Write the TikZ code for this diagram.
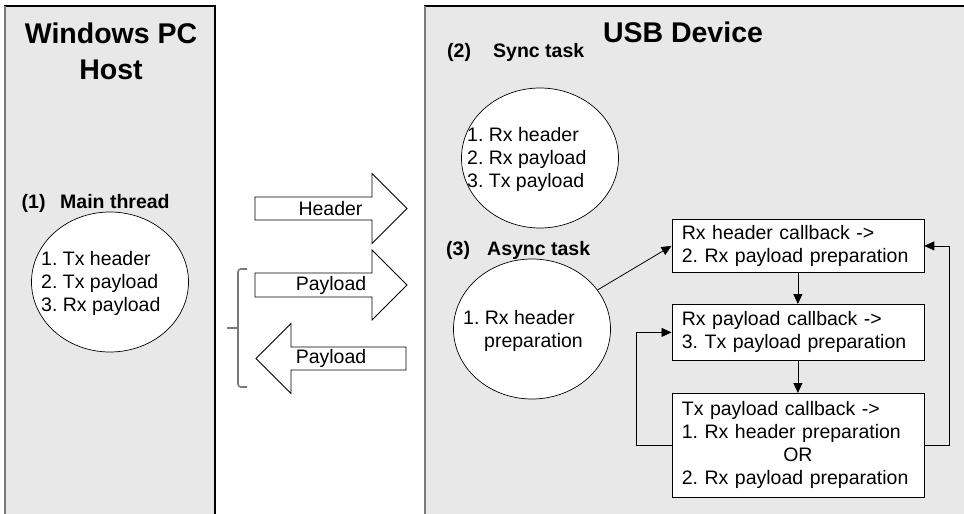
\documentclass[tikz,border=0pt]{standalone}
\usepackage{fontspec}
\setmainfont{Liberation Sans}
\usetikzlibrary{arrows.meta,shapes.geometric}
\definecolor{panelfill}{HTML}{E8E8E8}
\definecolor{edgegray}{HTML}{7A7A7A}
\frenchspacing
\begin{document}
\begin{tikzpicture}[x=1pt,y=-1pt,
  body/.style={font=\fontsize{19.5}{23}\selectfont\frenchspacing},
  lbl/.style={font=\fontsize{19.5}{23}\selectfont\bfseries, inner sep=0, anchor=base west},
  ttl/.style={font=\fontsize{28.5}{36.5}\selectfont\bfseries, inner sep=0, align=center},
  ell/.style={draw, fill=white, ellipse, line width=0.7pt, inner sep=0, minimum width=157pt, minimum height=140pt},
  etext/.style={body, align=left, anchor=west, inner sep=0},
  cbox/.style={draw, fill=white, line width=0.8pt, body, align=left, text width=232pt, inner xsep=10pt, inner ysep=0pt, anchor=north west},
  blk/.style={draw, fill=white, line width=0.8pt, line join=miter},
  blktext/.style={body, inner sep=0},
  flow/.style={line width=0.8pt, -{Triangle[length=10pt,width=9pt]}},
  bracestyle/.style={edgegray, line width=1.6pt},
  panel/.style={fill=panelfill},
]
\useasboundingbox (0,0) rectangle (964,514);
\clip (0,0) rectangle (964,514);

% panels
\fill[panel] (4,6) rectangle (215,530);
\draw[black, line width=1.2pt] (4,6) -- (215,6) -- (215,530);
\draw[edgegray, line width=2pt] (5,6) -- (5,530);
\fill[panel] (424,6) rectangle (980,530);
\draw[black, line width=1.2pt] (424,6) -- (980,6);
\draw[edgegray, line width=2pt] (425,6) -- (425,530);

% titles
\node[ttl] (t1) at (111,51.5) {Windows PC\\Host};
\node[ttl, anchor=base] (t2) at (683,42.5) {USB Device};

% labels
\node[lbl] (n1) at (21.5,208) {(1)};
\node[lbl] (m1) at (60,208) {Main thread};
\node[lbl] (n2) at (447,57) {(2)};
\node[lbl] (m2) at (493,57) {Sync task};
\node[lbl] (n3) at (446,255) {(3)};
\node[lbl] (m3) at (487,255) {Async task};

% ellipses
\node[ell] (le) at (110,282) {};
\node[etext] (lt) at (41,283.5) {1. Tx header\\2. Tx payload\\3. Rx payload};
\node[ell] (se) at (540,158) {};
\node[etext] (st) at (467,159.5) {1. Rx header\\2. Rx payload\\3. Tx payload};
\node[ell] (ae) at (532,329) {};
\node[etext] (at) at (463,331) {1. Rx header\\\hspace*{21pt}preparation};

% block arrows
\draw[blk] (255,197) -- (372,197) -- (372,173.5) -- (407,208.5) -- (372,243.5) -- (372,220) -- (255,220) -- cycle;
\node[blktext] (h1) at (330.5,208.5) {Header};
\draw[blk] (255,273) -- (372,273) -- (372,250) -- (407,285) -- (372,320) -- (372,297) -- (255,297) -- cycle;
\node[blktext] (p1) at (331,285) {Payload};
\draw[blk] (406,347) -- (291,347) -- (291,323.5) -- (256,358.5) -- (291,393.5) -- (291,370) -- (406,370) -- cycle;
\node[blktext] (p2) at (331,358.5) {Payload};

% brace
\draw[bracestyle, rounded corners=3pt] (247,269) -- (238,269) -- (238,387) -- (247,387);
\draw[bracestyle] (227,328) -- (238,328);

% callback boxes
\node[cbox, minimum height=53pt] (b1) at (671.5,219) {Rx header callback ->\\2. Rx payload preparation};
\node[cbox, minimum height=56pt] (b2) at (671.5,304) {Rx payload callback ->\\3. Tx payload preparation};
\node[cbox, minimum height=104pt] (b3) at (671.5,393) {Tx payload callback ->\\1. Rx header preparation\\\makebox[232pt]{OR}\\2. Rx payload preparation};

% connectors
\coordinate (rc) at (949,0);
\coordinate (lc) at (636,0);
\draw[flow] (ae) -- (b1.west);
\draw[flow] (b1.south) -- (b2.north);
\draw[flow] (b2.south) -- (b3.north);
\draw[flow] (b3.east) -- (b3.east -| rc) |- (b1.east);
\draw[flow] (b3.west) -- (b3.west -| lc) |- (b2.west);
\end{tikzpicture}
\end{document}
